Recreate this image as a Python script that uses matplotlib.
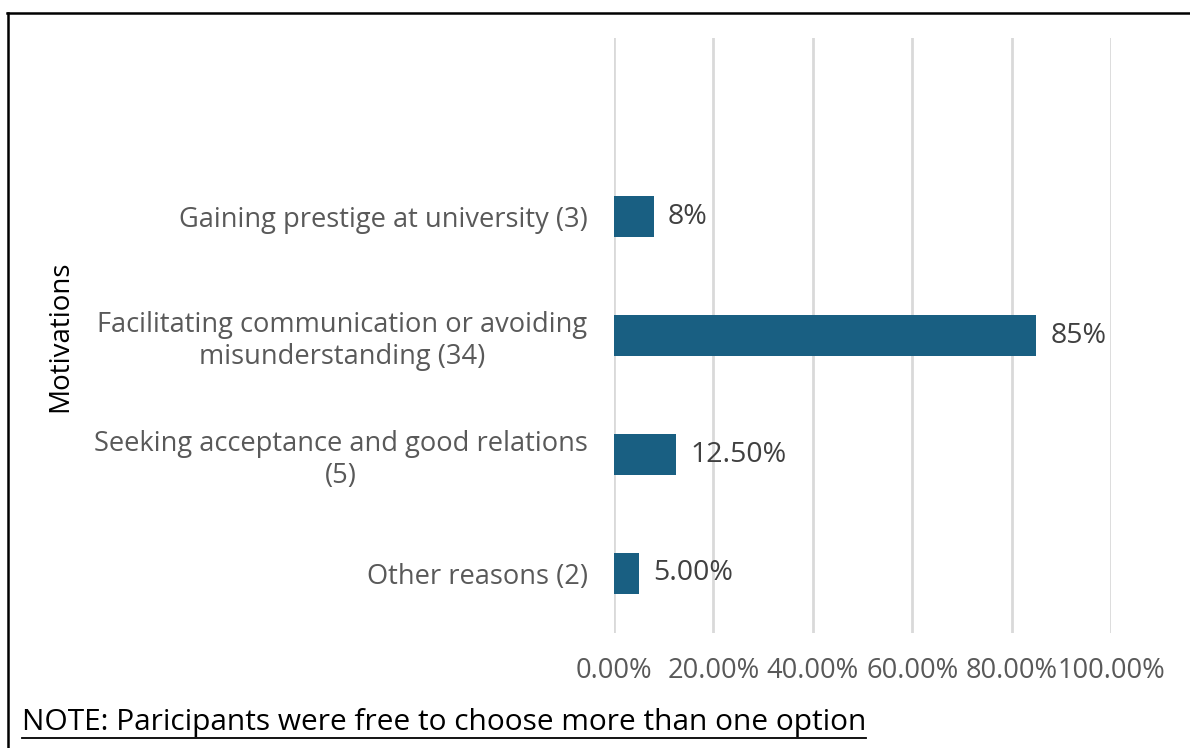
import matplotlib.pyplot as plt
from matplotlib.lines import Line2D
from matplotlib.ticker import FuncFormatter

categories = ["", "Gaining prestige at university (3)",
              "Facilitating communication or avoiding\nmisunderstanding (34)",
              "Seeking acceptance and good relations\n(5)",
              "Other reasons (2)"]
values = [None, 8, 85, 12.5, 5]
value_labels = ["", "8%", "85%", "12.50%", "5.00%"]
xticks = [0, 20, 40, 60, 80, 100]

W, H = 1190, 748
fig = plt.figure(figsize=(W / 100, H / 100), dpi=100)
plt.rcParams['font.family'] = ['Open Sans', 'DejaVu Sans']

# axes box in pixel coordinates
left, right, top, bottom = 614, 1111, 38, 633
ax = fig.add_axes([left / W, 1 - bottom / H, (right - left) / W, (bottom - top) / H])

bar_color = "#195F82"
for i, (v, lab) in enumerate(zip(values, value_labels)):
    if v is None:
        continue
    ax.barh(i, v, height=0.345, color=bar_color, zorder=3)
    ax.text(v + 2.8, i, lab, va="center", ha="left", fontsize=20.5, color="#404040")

ax.set_ylim(4.5, -0.5)
ax.set_xlim(0, 100)
ax.set_yticks(range(len(categories)))
ax.set_yticklabels(categories, fontsize=19.6, color="#595959", linespacing=1.2)
ax.set_xticks(xticks)
ax.xaxis.set_major_formatter(FuncFormatter(lambda x, _: f"{x:.2f}%"))
ax.tick_params(axis="x", labelsize=19.6, labelcolor="#595959", length=0, pad=17)
for lab in ax.get_yticklabels():
    lab.set_horizontalalignment("right")
    lab.set_multialignment("center")
ax.tick_params(axis="y", length=0, pad=19)
ax.grid(axis="x", color="#D9D9D9", linewidth=2, zorder=0)
for s in ax.spines.values():
    s.set_visible(False)

fig.text(60 / W, 1 - 336 / H, "Motivations", rotation=90, fontsize=20,
         va="center", ha="center", color="black")

# note with underline
note = fig.text(22 / W, 1 - 730 / H, "NOTE: Paricipants were free to choose more than one option",
                fontsize=21.5, color="black", ha="left", va="baseline")
fig.canvas.draw()
bb = note.get_window_extent()
y_ul = bb.y0 - 1
fig.add_artist(Line2D([bb.x0 / W, bb.x1 / W], [y_ul / H, y_ul / H],
                      transform=fig.transFigure, color="black", linewidth=1.3))

# frame lines (top and left)
fig.add_artist(Line2D([7 / W, 1], [1 - 12.5 / H, 1 - 12.5 / H], transform=fig.transFigure,
                      color="black", linewidth=1.8))
fig.add_artist(Line2D([8 / W, 8 / W], [0, 1 - 12.5 / H], transform=fig.transFigure,
                      color="black", linewidth=1.8))

fig.savefig("out.png", dpi=100)
